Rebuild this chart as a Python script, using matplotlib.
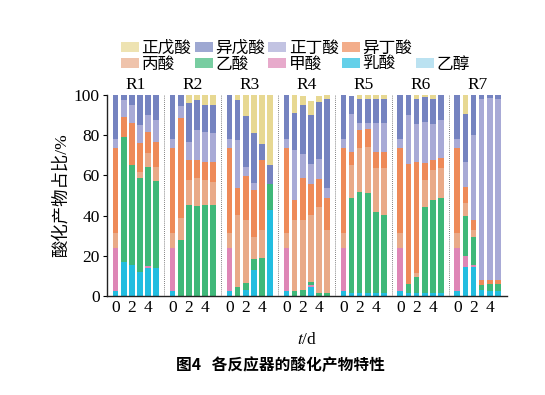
import matplotlib
matplotlib.use("Agg")
import matplotlib.pyplot as plt
from matplotlib.patches import Patch
import numpy as np

plt.rcParams['font.family'] = ['Liberation Serif', 'Noto Sans CJK SC', 'DejaVu Sans']
plt.rcParams['mathtext.fontset'] = 'stix'

#------------------------------------------data----------------------------------------------------
reactors = ['R1', 'R2', 'R3', 'R4', 'R5', 'R6', 'R7']
days = [0, 1, 2, 3, 4, 5]
day_ticks = ['0', '2', '4']

# percent of each acid, one row per reactor, one value per day
ethanol = [[0] * 6 for _ in range(7)]
lactic = [[2.2, 17.1, 15.4, 12.1, 13.8, 13.8],
          [2.2, 0, 0, 0, 0, 0],
          [2.2, 0, 3.0, 12.9, 0, 42.8],
          [2.2, 0, 0, 4.6, 0, 0],
          [2.2, 1.3, 1.3, 1.3, 1.3, 1.3],
          [2.2, 1.3, 1.3, 1.3, 1.3, 1.3],
          [2.2, 14.6, 14.3, 2.7, 2.2, 2.2]]
formic = [[21.8, 0, 0, 0, 1.2, 0],
          [21.8, 0, 0, 0, 0, 0],
          [21.8, 0, 0, 0, 0, 0],
          [21.8, 0, 0, 1.0, 0, 0],
          [21.8, 0, 0, 0, 0, 0],
          [21.8, 0, 0, 0, 0, 0],
          [21.8, 5.3, 1.1, 0, 0, 0]]
acetic = [[0, 62.2, 49.8, 46.8, 49.1, 43.6],
          [0, 28.0, 45.3, 44.8, 45.3, 45.3],
          [0, 4.6, 3.3, 5.3, 18.7, 12.9],
          [0, 2.2, 3.0, 1.5, 1.3, 1.3],
          [0, 47.3, 50.6, 49.8, 40.7, 39.0],
          [0, 4.6, 8.3, 43.1, 46.4, 47.3],
          [0, 19.9, 14.1, 2.8, 3.8, 3.8]]
propionic = [[7.5, 0, 0, 3.0, 7.3, 6.6],
             [7.5, 10.8, 12.4, 13.8, 12.4, 11.6],
             [7.5, 35.7, 31.5, 11.3, 14.1, 0],
             [7.5, 35.6, 34.8, 33.0, 43.0, 31.5],
             [7.5, 16.6, 21.6, 23.2, 21.5, 23.2],
             [7.5, 0, 2.0, 13.3, 14.9, 14.9],
             [7.5, 6.3, 3.3, 0, 0, 0]]
isobutyric = [[42.0, 10.0, 20.7, 14.1, 10.4, 12.8],
              [42.0, 49.8, 10.0, 9.1, 9.1, 10.0],
              [42.0, 13.3, 21.9, 23.2, 34.8, 0],
              [42.0, 10.0, 20.7, 15.7, 14.0, 15.8],
              [42.0, 6.6, 9.1, 9.1, 8.3, 8.3],
              [42.0, 60.0, 55.2, 8.3, 5.0, 5.0],
              [42.0, 8.3, 5.0, 2.2, 1.7, 2.0]]
butyric = [[4.9, 8.3, 9.1, 9.1, 8.3, 10.8],
           [4.9, 5.8, 9.1, 14.9, 14.9, 14.1],
           [4.9, 24.0, 4.6, 3.3, 0, 0],
           [4.9, 24.8, 12.4, 10.0, 10.0, 5.0],
           [4.9, 19.0, 3.3, 2.5, 14.1, 14.1],
           [4.9, 24.0, 19.0, 20.7, 18.2, 19.0],
           [4.9, 12.4, 42.3, 90.2, 90.7, 90.2]]
isovaleric = [[21.6, 2.5, 5.0, 14.9, 10.0, 12.4],
              [21.6, 5.8, 19.1, 14.9, 13.3, 14.1],
              [21.6, 20.0, 25.2, 25.2, 8.3, 9.5],
              [21.6, 18.3, 24.0, 24.4, 28.2, 44.7],
              [21.6, 9.0, 12.4, 12.4, 12.4, 12.4],
              [21.6, 10.0, 12.4, 12.4, 12.4, 12.4],
              [21.6, 23.7, 19.9, 2.2, 1.7, 1.7]]
valeric = [[0, 0, 0, 0, 0, 0],
           [0, 0, 4.1, 2.5, 5.0, 4.9],
           [0, 2.5, 10.4, 18.7, 24.0, 34.8],
           [0, 9.1, 4.5, 7.1, 3.3, 1.7],
           [0, 0, 1.7, 1.7, 1.7, 1.7],
           [0, 0, 1.7, 1.7, 1.7, 1.7],
           [0, 9.5, 0, 0, 0, 0]]

# bottom to top
series = [('乙醇', ethanol, '#9fd6ec'),
          ('乳酸', lactic, '#22bde0'),
          ('甲酸', formic, '#de86b6'),
          ('乙酸', acetic, '#3fb879'),
          ('丙酸', propionic, '#e9aa88'),
          ('异丁酸', isobutyric, '#ee8a58'),
          ('正丁酸', butyric, '#a8aad6'),
          ('异戊酸', isovaleric, '#7583c0'),
          ('正戊酸', valeric, '#e7d892')]

#------------------------------------------plot----------------------------------------------------
fig = plt.figure(figsize=(5.45, 3.95), dpi=100)
ax = fig.add_axes([0.196, 0.251, 0.734, 0.508])

gap = len(days) + 1
x = np.array([g * gap + d for g in range(len(reactors)) for d in days], dtype=float)
bottom = np.zeros(len(x))
colors = {}
for name, vals, c in series:
    v = np.array(vals, dtype=float).ravel()
    ax.bar(x, v, width=0.7, bottom=bottom, color=c, linewidth=0)
    bottom += v
    colors[name] = c

for g in range(1, len(reactors)):
    ax.axvline(g * gap - 1, color='#555555', lw=0.6, ls=(0, (1, 1.5)))

for g, r in enumerate(reactors):
    ax.text(g * gap + 2.5, 101.0, r, ha='center', va='bottom', fontsize=12.5)

ticks = [g * gap + int(t) for g in range(len(reactors)) for t in day_ticks]
ax.set_xticks(ticks)
ax.set_xticklabels(day_ticks * len(reactors), fontsize=12.5)
ax.set_yticks([0, 20, 40, 60, 80, 100])
ax.tick_params(axis='y', labelsize=12.5, length=3, width=0.8, pad=2)
ax.tick_params(axis='x', length=0, pad=3)
ax.set_xlim(-1.08, len(reactors) * gap - 0.9)
ax.set_ylim(0, 100)
for s in ['top', 'right']:
    ax.spines[s].set_visible(False)
for s in ['left', 'bottom']:
    ax.spines[s].set_linewidth(1.0)
    ax.spines[s].set_color('#222222')

ax.set_ylabel('酸化产物占比/%', fontsize=12.5)
ax.yaxis.set_label_coords(-0.092, 0.5)
ax.set_xlabel(r'$t$/d', fontsize=12.5)
ax.xaxis.set_label_coords(0.5, -0.18)

# legend laid out row by row (5 columns, blank slot in row 1)
order = ['正戊酸', '丙酸', '异戊酸', '乙酸', '正丁酸', '甲酸', '异丁酸', '乳酸', None, '乙醇']
handles, labels = [], []
for n in order:
    if n is None:
        handles.append(Patch(facecolor='none', edgecolor='none'))
        labels.append('')
    else:
        handles.append(Patch(facecolor=colors[n], edgecolor='none', alpha=0.7))
        labels.append(n)
fig.legend(handles, labels, ncol=5, loc='upper left', bbox_to_anchor=(0.222, 0.897),
           frameon=False, fontsize=12, handlelength=1.08, handleheight=0.5,
           handletextpad=0.15, columnspacing=0.2, labelspacing=0.0, borderaxespad=0,
           borderpad=0)

fig.text(0.514, 0.076, '图4   各反应器的酸化产物特性', ha='center', va='center',
         fontsize=11.3, fontweight='bold', family=['Noto Sans CJK SC', 'DejaVu Sans'])

fig.savefig('out.png', dpi=100)
